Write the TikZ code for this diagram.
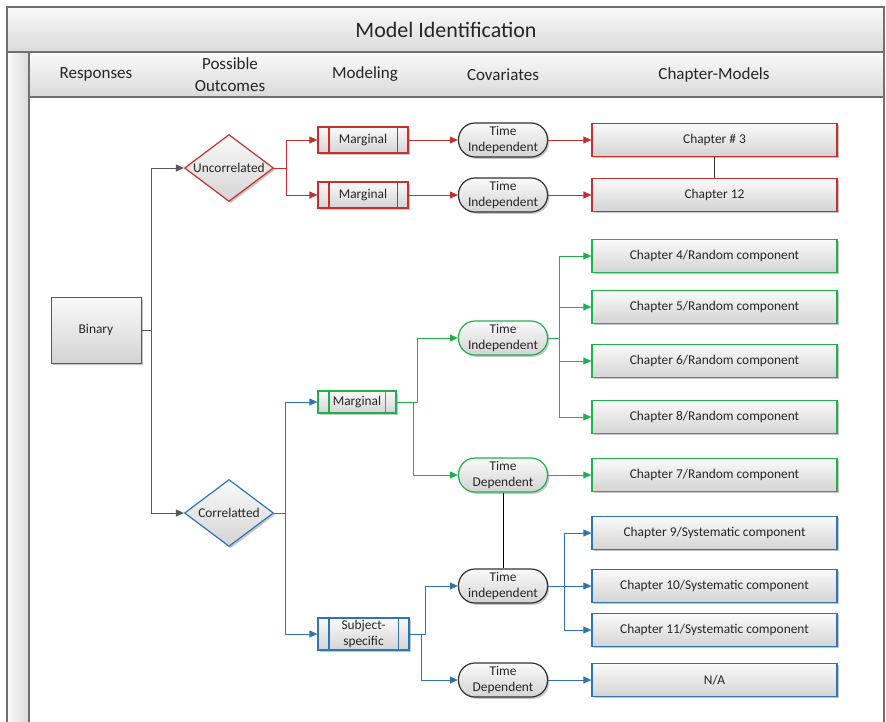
\documentclass[tikz,border=0pt]{standalone}
\usepackage{fontspec}
\setmainfont{Carlito}
\usetikzlibrary{arrows.meta,shapes.geometric,shadows,calc}

\definecolor{cRed}{RGB}{196,48,43}
\definecolor{cGreen}{RGB}{32,176,78}
\definecolor{cBlue}{RGB}{46,117,182}
\definecolor{cGray}{RGB}{89,89,89}
\definecolor{cDark}{RGB}{50,50,50}
\definecolor{frameC}{RGB}{112,112,112}
\definecolor{fillT}{RGB}{250,250,250}
\definecolor{fillB}{RGB}{212,212,212}
\definecolor{barT}{RGB}{250,250,250}
\definecolor{barB}{RGB}{218,218,218}
\definecolor{txt}{RGB}{38,38,38}

\tikzset{
  base/.style={font=\fontsize{13.4}{16}\selectfont, text=txt, line width=1.2pt,
    top color=fillT, bottom color=fillB, inner sep=0pt,
    drop shadow={shadow xshift=1.8pt, shadow yshift=-1.8pt, fill=black!22, opacity=1}},
  chapbox/.style={base, rectangle, minimum width=245pt, minimum height=33pt},
  timebox/.style={base, rectangle, rounded corners=16.5pt, minimum width=89pt, minimum height=34pt, align=center},
  procbox/.style={base, rectangle, minimum height=26pt, align=center},
  decision/.style={base, diamond, minimum width=89pt, minimum height=67pt},
  respbox/.style={base, rectangle, minimum width=90pt, minimum height=66pt, draw=cGray, line width=1pt},
  conn/.style={line width=1pt},
  arr/.style={conn, -{Triangle[length=8pt,width=7pt]}},
  headtext/.style={font=\fontsize{17}{21.5}\selectfont, text=txt, align=center},
}

\begin{document}
\begin{tikzpicture}[x=1pt,y=-1pt]
\useasboundingbox (0,0) rectangle (886,721);

% frame: title bar, column header bar and left rail
\path[draw=frameC, line width=1.2pt, top color=barT, bottom color=barB] (7,7) rectangle (884,52);
\path[draw=frameC, line width=1.2pt, top color=barT, bottom color=barB] (29,52) rectangle (884,97);
\path[draw=frameC, line width=1.2pt, left color=barT, right color=barB] (7,52) rectangle (29,724);
\draw[frameC, line width=1.2pt] (884,52) -- (884,724);

\node[font=\fontsize{22}{26}\selectfont, text=txt] (title) at (446,30) {Model Identification};
\node[headtext] (hResp) at (96,74.5) {Responses};
\node[headtext] (hOut) at (230,74.5) {Possible\\Outcomes};
\node[headtext] (hMod) at (365,74.5) {Modeling};
\node[headtext] (hCov) at (503,74.5) {Covariates};
\node[headtext] (hChap) at (714,74.5) {Chapter-Models};

% responses and outcomes
\node[respbox] (bin) at (96,330) {Binary};
\node[decision, draw=cRed] (unc) at (229,168) {\makebox[0pt]{Uncorrelated}};
\node[decision, draw=cBlue] (cor) at (229,513) {\makebox[0pt]{Correlatted}};

% modeling
\node[procbox, draw=cRed, minimum width=90pt] (m1) at (363,140) {Marginal};
\node[procbox, draw=cRed, minimum width=90pt] (m2) at (363,195) {Marginal};
\node[procbox, draw=cGreen, minimum width=78pt, minimum height=22pt] (mg) at (357,402) {Marginal};
\node[procbox, draw=cBlue, minimum width=91pt, minimum height=32pt] (ss) at (363.5,634) {Subject-\\specific};
\foreach \n/\c in {m1/cRed, m2/cRed, mg/cGreen, ss/cBlue}{
  \draw[\c, line width=1.2pt] ([xshift=11.5pt]\n.north west) -- ([xshift=11.5pt]\n.south west);
  \draw[\c, line width=1.2pt] ([xshift=-11.5pt]\n.north east) -- ([xshift=-11.5pt]\n.south east);
}

% covariates
\node[timebox, draw=cDark] (t1) at (503,140) {Time\\Independent};
\node[timebox, draw=cDark] (t2) at (503,195) {Time\\Independent};
\node[timebox, draw=cGreen] (tig) at (503,338) {Time\\Independent};
\node[timebox, draw=cGreen] (tdg) at (503,475) {Time\\Dependent};
\node[timebox, draw=cDark] (tib) at (503,586) {Time\\independent};
\node[timebox, draw=cDark] (tdb) at (503,680) {Time\\Dependent};

% chapter models
\node[chapbox, draw=cRed] (c3) at (714.5,140) {Chapter \# 3};
\node[chapbox, draw=cRed] (c12) at (714.5,195) {Chapter 12};
\node[chapbox, draw=cGreen] (c4) at (714.5,256) {Chapter 4/Random component};
\node[chapbox, draw=cGreen] (c5) at (714.5,307) {Chapter 5/Random component};
\node[chapbox, draw=cGreen] (c6) at (714.5,361) {Chapter 6/Random component};
\node[chapbox, draw=cGreen] (c8) at (714.5,417) {Chapter 8/Random component};
\node[chapbox, draw=cGreen] (c7) at (714.5,475) {Chapter 7/Random component};
\node[chapbox, draw=cBlue] (c9) at (714.5,533) {Chapter 9/Systematic component};
\node[chapbox, draw=cBlue] (c10) at (714.5,586) {Chapter 10/Systematic component};
\node[chapbox, draw=cBlue] (c11) at (714.5,630) {Chapter 11/Systematic component};
\node[chapbox, draw=cBlue] (na) at (714.5,680) {N/A};

% binary response splits into outcomes
\coordinate (bj) at ($(bin.east)+(10,0)$);
\draw[conn, cGray] (bin.east) -- (bj);
\draw[arr, cGray] (bj) |- (unc.west);
\draw[arr, cGray] (bj) |- (cor.west);

% uncorrelated branch
\coordinate (uj) at ($(unc.east)+(12,0)$);
\draw[arr, cRed] (unc.east) -- (uj) |- (m1.west);
\draw[arr, cRed] (unc.east) -- (uj) |- (m2.west);
\draw[arr, cRed] (m1) -- (t1);
\draw[arr, cRed] (m2) -- (t2);
\draw[arr, cRed] (t1) -- (c3);
\draw[arr, cRed] (t2) -- (c12);
\draw[conn, cDark] (c3) -- (c12);

% correlated branch
\coordinate (cj) at ($(cor.east)+(11,0)$);
\draw[arr, cBlue] (cor.east) -- (cj) |- (mg.west);
\draw[arr, cBlue] (cor.east) -- (cj) |- (ss.west);

% marginal model
\coordinate (mgu) at ($(mg.east)+(21,0)$);
\coordinate (mgd) at ($(mg.east)+(17,0)$);
\draw[arr, cGreen] (mg.east) -- (mgu) |- (tig.west);
\draw[arr, cGreen] (mg.east) -- (mgd) |- (tdg.west);
\coordinate (gj) at ($(tig.east)+(11,0)$);
\foreach \ch in {c4,c5,c6,c8}{
  \draw[arr, cGreen] (tig.east) -- (gj) |- (\ch.west);
}
\draw[arr, cGreen] (tdg) -- (c7);
\draw[conn, black] (tdg) -- (tib);

% subject-specific model
\coordinate (ssu) at ($(ss.east)+(16,0)$);
\coordinate (ssd) at ($(ss.east)+(12,0)$);
\draw[arr, cBlue] (ss.east) -- (ssu) |- (tib.west);
\draw[arr, cBlue] (ss.east) -- (ssd) |- (tdb.west);
\coordinate (bj2) at ($(tib.east)+(16,0)$);
\foreach \ch in {c9,c10,c11}{
  \draw[arr, cBlue] (tib.east) -- (bj2) |- (\ch.west);
}
\draw[arr, cBlue] (tdb) -- (na);
\end{tikzpicture}
\end{document}
